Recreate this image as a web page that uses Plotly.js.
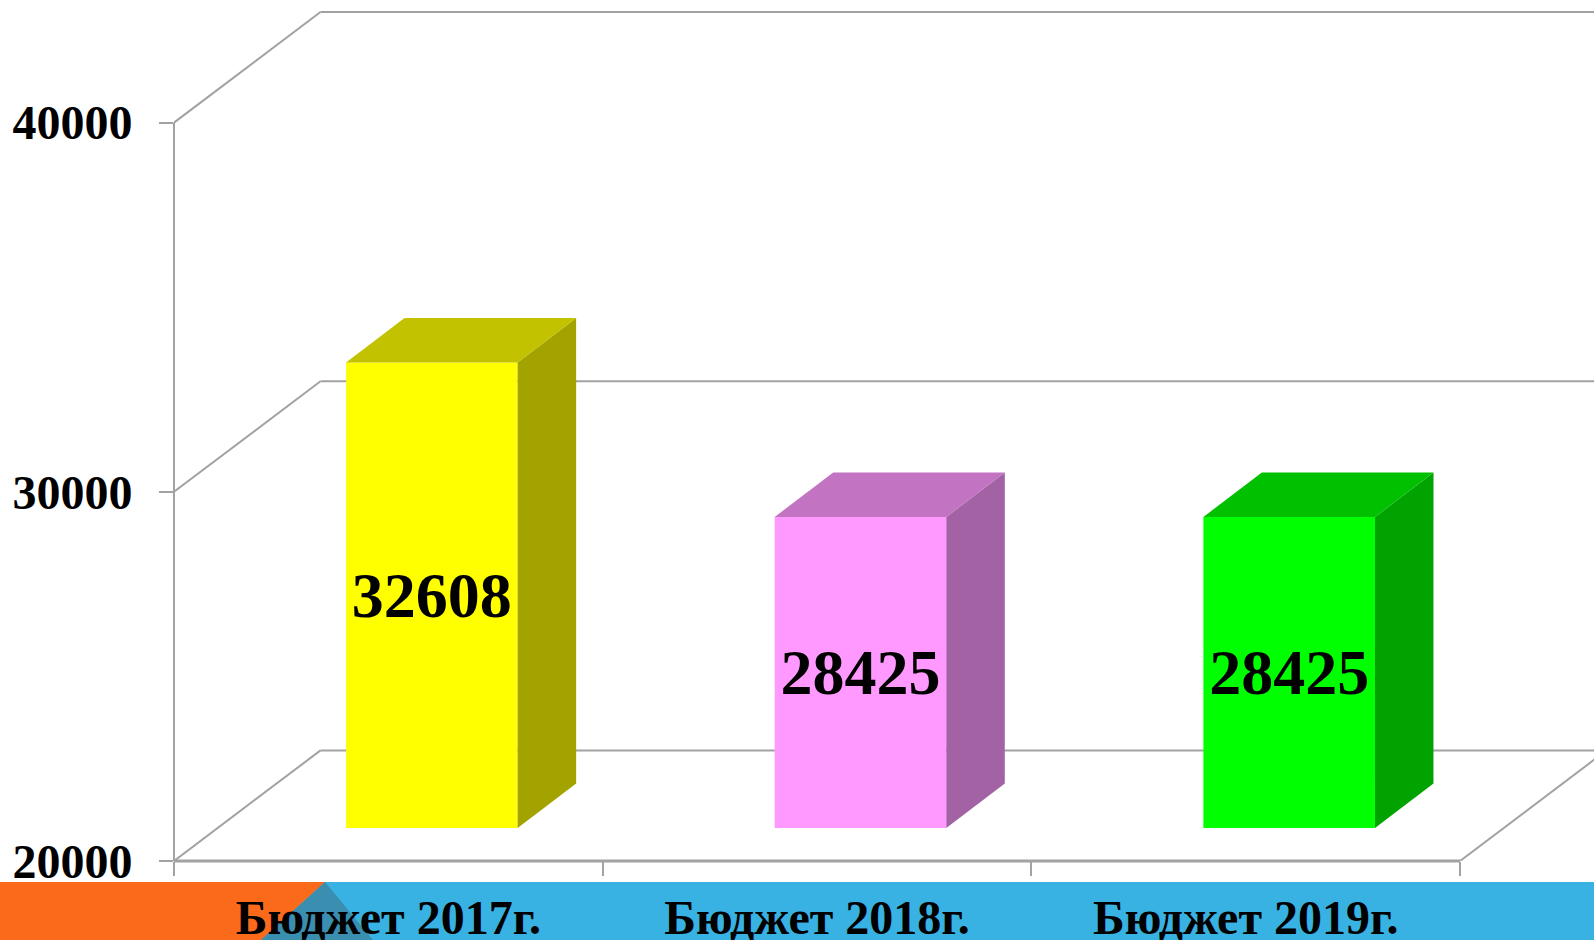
<!DOCTYPE html>
<html>
<head>
<meta charset="utf-8">
<script src="https://cdn.plot.ly/plotly-3.0.1.min.js"></script>
<style>html,body{margin:0;padding:0;background:#fff;overflow:hidden}</style>
</head>
<body>
<div id="chart" style="width:1594px;height:940px"></div>
<script>
const categories = ["Бюджет 2017г.", "Бюджет 2018г.", "Бюджет 2019г."];
const values = [32608, 28425, 28425];
const frontColors = ["#FFFF00", "#FF99FF", "#00FF00"];
const sideColors = ["#A3A300", "#A362A3", "#00A300"];
const topColors = ["#C2C200", "#C273C2", "#00C000"];
const yTicks = [20000, 30000, 40000];

// page geometry
const W = 1594, H = 940, L = 174, B = 861;
const catPx = 428.67, valPx = 36.92 / 1000;
const xRange = [0.5, 0.5 + (W - L) / catPx];
const yRange = [20000, 20000 + B / valPx];

// pseudo-3D depth, in axis units
const wallDx = 146.5 / catPx, wallDy = 110.6 / valPx;
const barDx = 58.5 / catPx, barDy = 44.5 / valPx;
const barShiftX = 43.5 / catPx, barShiftY = 33 / valPx;
const barWidth = 171.6 / catPx;

const GREY = "#A2A2A2";
const serif = "'Liberation Serif','Times New Roman',serif";

const xs = categories.map((_, i) => i + 1 + barShiftX);
const traces = [];

traces.push({
  type: "bar", x: xs, y: values.map(v => v - yTicks[0]),
  base: values.map(() => yTicks[0] + barShiftY), width: barWidth,
  marker: {color: frontColors, line: {width: 0}},
  text: values.map(String), textposition: "inside", insidetextanchor: "middle",
  textangle: 0, constraintext: "none",
  textfont: {family: serif, size: 64, color: "#000", weight: "bold"},
  hoverinfo: "skip", showlegend: false
});

values.forEach((v, i) => {
  const xl = xs[i] - barWidth / 2, xr = xs[i] + barWidth / 2;
  const yb = yTicks[0] + barShiftY, yt = v + barShiftY;
  traces.push({
    type: "scatter", mode: "lines", fill: "toself", fillcolor: sideColors[i],
    line: {width: 0, color: sideColors[i]}, hoverinfo: "skip", showlegend: false,
    x: [xr, xr + barDx, xr + barDx, xr, xr],
    y: [yt, yt + barDy, yb + barDy, yb, yt]
  });
  traces.push({
    type: "scatter", mode: "lines", fill: "toself", fillcolor: topColors[i],
    line: {width: 0, color: topColors[i]}, hoverinfo: "skip", showlegend: false,
    x: [xl, xl + barDx, xr + barDx, xr, xl],
    y: [yt, yt + barDy, yt + barDy, yt, yt]
  });
});

const line = (x0, y0, x1, y1, w) => ({
  type: "line", xref: "x", yref: "y", layer: "below", x0, y0, x1, y1,
  line: {color: GREY, width: w || 2}
});
const shapes = [];

// background band (page pixels converted to paper units)
const px = x => (x - L) / (W - L);
const py = y => (B - y) / B;
const band = (pts, color) => ({
  type: "path", xref: "paper", yref: "paper", layer: "below",
  path: "M" + pts.map(p => px(p[0]) + "," + py(p[1])).join("L") + "Z",
  fillcolor: color, line: {width: 0}
});
shapes.push(band([[0, 882], [W, 882], [W, H], [0, H]], "#38B2E2"));
shapes.push(band([[0, 882], [325, 882], [261, H], [0, H]], "#FB6A1A"));
shapes.push(band([[325, 882], [373, H], [261, H]], "#3A8FB0"));

// walls and floor
yTicks.forEach(t => {
  shapes.push(line(0.5, t, 0.5 + wallDx, t + wallDy));
  shapes.push(line(0.5 + wallDx, t + wallDy, xRange[1], t + wallDy));
});
shapes.push(line(3.5, yTicks[0], 3.5 + wallDx, yTicks[0] + wallDy));
// y-axis line and x-axis line: one coordinate on paper so they are not clipped
shapes.push({type: "line", xref: "paper", yref: "y", layer: "below", x0: 0, x1: 0,
  y0: yTicks[0], y1: yTicks[2], line: {color: GREY, width: 2}});
shapes.push({type: "line", xref: "x", yref: "paper", layer: "below", x0: 0.5, x1: 3.5,
  y0: 0, y1: 0, line: {color: GREY, width: 3}});

const layout = {
  width: W, height: H, autosize: false,
  margin: {l: L, r: 0, t: 0, b: H - B, pad: 0},
  paper_bgcolor: "#fff", plot_bgcolor: "rgba(0,0,0,0)",
  showlegend: false, hovermode: false, shapes,
  xaxis: {
    type: "linear", range: xRange, fixedrange: true, showgrid: false, zeroline: false, showline: false,
    tickmode: "array", tickvals: [1, 2, 3], ticktext: categories, ticks: "",
    ticklabelstandoff: 24,
    tickfont: {family: serif, size: 48, color: "#000", weight: "bold"},
    minor: {tickmode: "array", tickvals: [0.5, 1.5, 2.5, 3.5], ticks: "outside", ticklen: 14, tickwidth: 2, tickcolor: GREY, showgrid: false}
  },
  yaxis: {
    range: yRange, fixedrange: true, showgrid: false, zeroline: false, showline: false,
    tickmode: "array", tickvals: yTicks, ticktext: yTicks.map(String),
    ticks: "outside", ticklen: 14, tickwidth: 2, tickcolor: GREY,
    ticklabelstandoff: 17,
    tickfont: {family: serif, size: 48, color: "#000", weight: "bold"}
  }
};
Plotly.newPlot("chart", traces, layout, {displayModeBar: false, staticPlot: true});
</script>
</body>
</html>
